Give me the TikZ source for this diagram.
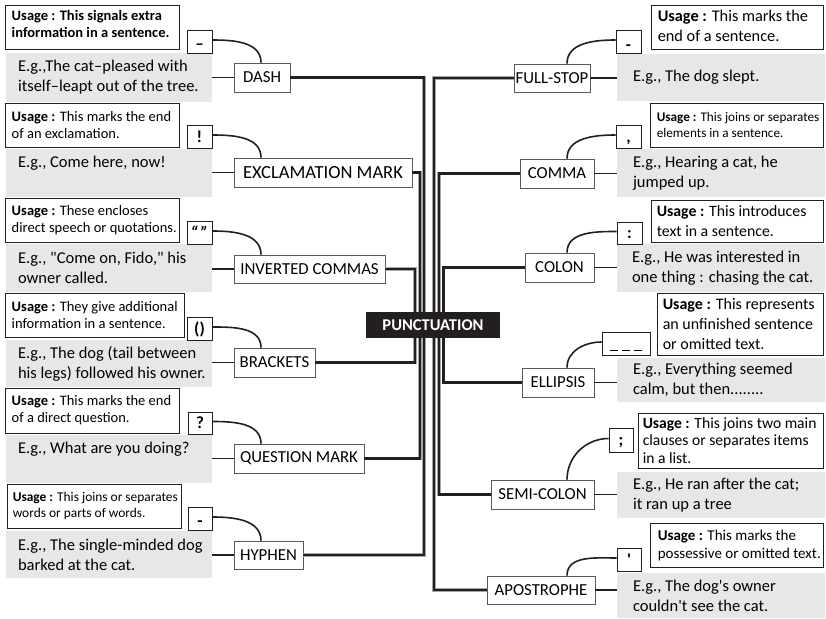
\documentclass[tikz,border=0pt]{standalone}
\usepackage{fontspec}
\setmainfont{Carlito}
\newcommand{\myfs}[2]{\fontsize{#1}{#2}\selectfont}
\newcommand{\ulbar}{\raisebox{-2pt}{\rule{8pt}{1.4pt}}}
\definecolor{exgrey}{RGB}{230,231,232}
\definecolor{ink}{RGB}{35,31,32}
\tikzset{
  sz/.style 2 args={minimum width=#1pt, minimum height=#2pt},
  ubox/.style={draw=ink, line width=0.9pt, fill=white, inner sep=0pt},
  ebox/.style={fill=exgrey, inner sep=0pt},
  sbox/.style={draw=ink, line width=0.9pt, fill=white, inner sep=0pt, text height=11pt, text depth=0pt, font=\bfseries\myfs{17}{18}},
  lbox/.style={draw=black!65, line width=0.8pt, fill=white, inner sep=0pt, font=\myfs{16.8}{20}},
  txt/.style={inner sep=0pt, align=left, anchor=west},
  etxt/.style={txt, font=\myfs{16.5}{20}},
  utxt/.style={txt, font=\myfs{14.5}{17}},
  trunk/.style={draw=ink, line width=2.1pt, preaction={draw=black!35, line width=3.1pt}},
  link/.style={draw=ink, line width=1.7pt},
  curv/.style={draw=ink, line width=1.6pt}
}
\begin{document}
\begin{tikzpicture}[x=1pt,y=1pt]
\useasboundingbox (0,0) rectangle (826,-618);
% helper coordinates
\coordinate (tL1) at (415,0);
\coordinate (tL2) at (420,0);
\coordinate (tL3) at (424,0);
\coordinate (tR1) at (443.5,0);
\coordinate (tR2) at (439,0);
\coordinate (tR3) at (434,0);
\coordinate (cL) at (261,0);
\coordinate (cR) at (567,0);

% ---------- LEFT: example boxes ----------
\node[ebox,sz={206}{49}] (eD) at (109,-77.5) {};
\node[ebox,sz={206}{48}] (eX) at (109,-173) {};
\node[ebox,sz={206}{48}] (eI) at (109,-268) {};
\node[ebox,sz={206}{47}] (eB) at (109,-363.5) {};
\node[ebox,sz={206}{48}] (eQ) at (109,-459) {};
\node[ebox,sz={206}{47}] (eH) at (109,-554.5) {};
\node[etxt] (eDt) at ([xshift=12pt]eD.west) {E.g.,The cat–pleased with\\itself–leapt out of the tree.};
\node[etxt] (eXt) at ([xshift=12pt,yshift=-14pt]eX.north west) {E.g., Come here, now!};
\node[etxt] (eIt) at ([xshift=12pt]eI.west) {E.g., \textquotedbl Come on, Fido,\textquotedbl{} his\\ owner called.};
\node[etxt] (eBt) at ([xshift=12pt]eB.west) {E.g., The dog (tail between\\his legs) followed his owner.};
\node[etxt] (eQt) at ([xshift=12pt,yshift=-14pt]eQ.north west) {E.g., What are you doing?};
\node[etxt] (eHt) at ([xshift=12pt]eH.west) {E.g., The single-minded dog\\barked at the cat.};

% ---------- LEFT: usage boxes ----------
\node[ubox,sz={174}{44}] (uD) at (92,-27) {};
\node[ubox,sz={174}{44}] (uX) at (92,-125) {};
\node[ubox,sz={174}{44}] (uI) at (92,-220) {};
\node[ubox,sz={179}{44}] (uB) at (94.5,-315) {};
\node[ubox,sz={174}{45}] (uQ) at (92,-410.5) {};
\node[ubox,sz={174}{44}] (uH) at (94,-506) {};
\node[utxt,font=\bfseries\myfs{14.5}{17}] (uDt) at ([xshift=7pt,yshift=3pt]uD.west) {Usage : This signals extra\\information in a sentence.};
\node[utxt] (uXt) at ([xshift=7pt]uX.west) {\textbf{Usage :} This marks the end\\of an exclamation.};
\node[utxt] (uIt) at ([xshift=7pt]uI.west) {\textbf{Usage :} These encloses\\direct speech or quotations.};
\node[utxt] (uBt) at ([xshift=7pt]uB.west) {\textbf{Usage :} They give additional\\information in a sentence.};
\node[utxt] (uQt) at ([xshift=7pt]uQ.west) {\textbf{Usage :} This marks the end\\of a direct question.};
\node[utxt,font=\myfs{13.4}{16}] (uHt) at ([xshift=6pt]uH.west) {\textbf{Usage :} This joins or separates\\words or parts of words.};

% ---------- LEFT: symbol boxes ----------
\node[sbox,sz={25}{23}] (sD) at (199.5,-41.5) {\raisebox{-2pt}{–}};
\node[sbox,sz={25}{23}] (sX) at (199.5,-136.5) {!};
\node[sbox,sz={25}{23}] (sI) at (199.5,-232.5) {\itshape “\,”};
\node[sbox,sz={25}{23}] (sB) at (199.5,-328.5) {()};
\node[sbox,sz={24}{22}] (sQ) at (200,-423) {?};
\node[sbox,sz={24}{23}] (sH) at (200,-518.5) {\raisebox{-2pt}{-}};

% ---------- LEFT: label boxes ----------
\node[lbox,sz={56}{29}] (nD) at (262,-77.5) {DASH};
\node[lbox,sz={178}{29},font=\myfs{18.5}{20}] (nX) at (323,-172.5) {EXCLAMATION MARK};
\node[lbox,sz={151}{28}] (nI) at (309.5,-269) {INVERTED COMMAS};
\node[lbox,sz={81}{29}] (nB) at (274.5,-362.5) {BRACKETS};
\node[lbox,sz={130}{29}] (nQ) at (299,-458.5) {QUESTION MARK};
\node[lbox,sz={69}{28}] (nH) at (268.5,-555) {HYPHEN};

% ---------- RIGHT: example boxes ----------
\node[ebox,sz={208}{47}] (eF) at (721,-77.5) {};
\node[ebox,sz={208}{48}] (eC) at (721,-173) {};
\node[ebox,sz={208}{48}] (eCo) at (721,-268) {};
\node[ebox,sz={208}{44}] (eE) at (721,-380) {};
\node[ebox,sz={208}{46}] (eS) at (721,-495) {};
\node[ebox,sz={208}{45}] (eA) at (721,-595.5) {};
\node[etxt] (eFt) at ([xshift=16pt]eF.west) {E.g., The dog slept.};
\node[etxt] (eCt) at ([xshift=16pt]eC.west) {E.g., Hearing a cat, he\\jumped up.};
\node[etxt] (eCot) at ([xshift=15pt]eCo.west) {E.g., He was interested in\\ one thing : chasing the cat.};
\node[etxt] (eEt) at ([xshift=16pt]eE.west) {E.g., Everything seemed\\calm, but then........};
\node[etxt] (eSt) at ([xshift=16pt]eS.west) {E.g., He ran after the cat;\\it ran up a tree};
\node[etxt] (eAt) at ([xshift=16pt]eA.west) {E.g., The dog\textquotesingle s owner\\couldn\textquotesingle t see the cat.};

% ---------- RIGHT: usage boxes ----------
\node[ubox,sz={172}{44}] (uF) at (737,-27) {};
\node[ubox,sz={173}{44}] (uC) at (736.5,-125) {};
\node[ubox,sz={172}{42}] (uCo) at (737,-221) {};
\node[ubox,sz={166}{62}] (uE) at (740,-324) {};
\node[ubox,sz={185}{55}] (uS) at (730.5,-440.5) {};
\node[ubox,sz={173}{44}] (uA) at (736.5,-545) {};
\node[utxt,font=\myfs{16.3}{19.5}] (uFt) at ([xshift=7pt,yshift=1pt]uF.west) {\textbf{Usage :} This marks the\\end of a sentence.};
\node[utxt,font=\myfs{13.2}{16}] (uCt) at ([xshift=7pt]uC.west) {\textbf{Usage :} This joins or separates\\elements in a sentence.};
\node[utxt,font=\myfs{15.8}{19.5}] (uCot) at ([xshift=6pt]uCo.west) {\textbf{Usage :} This introduces\\text in a sentence.};
\node[utxt,font=\myfs{16}{20}] (uEt) at ([xshift=6pt]uE.west) {\textbf{Usage :} This represents\\an unfinished sentence\\or omitted text.};
\node[utxt,font=\myfs{15.6}{17.5}] (uSt) at ([xshift=5pt]uS.west) {\textbf{Usage :} This joins two main\\clauses or separates items\\in a list.};
\node[utxt,font=\myfs{15}{18}] (uAt) at ([xshift=8pt]uA.west) {\textbf{Usage :} This marks the\\possessive or omitted text.};

% ---------- RIGHT: symbol boxes ----------
\node[sbox,sz={25}{23}] (sF) at (628.5,-41.5) {\raisebox{-3pt}{-}};
\node[sbox,sz={25}{23}] (sC) at (628.5,-136.5) {,};
\node[sbox,sz={25}{22}] (sCo) at (629.5,-233) {:};
\node[sbox,sz={48}{23}] (sE) at (626,-343.5) {\ulbar\hspace{4pt}\ulbar\hspace{4pt}\ulbar};
\node[sbox,sz={24}{24}] (sS) at (621,-440) {;};
\node[sbox,sz={24}{23}] (sA) at (629,-559.5) {\textquotesingle};

% ---------- RIGHT: label boxes ----------
\node[lbox,sz={76}{28}] (nF) at (552,-78) {FULL-STOP};
\node[lbox,sz={74}{29}] (nC) at (557,-173.5) {COMMA};
\node[lbox,sz={69}{29}] (nCo) at (559.5,-267.5) {COLON};
\node[lbox,sz={72}{29}] (nE) at (558,-382.5) {ELLIPSIS};
\node[lbox,sz={103}{29}] (nS) at (542.5,-494.5) {SEMI-COLON};
\node[lbox,sz={108}{28}] (nA) at (541,-590) {APOSTROPHE};

% ---------- connectors: example -> label ----------
\foreach \e/\n in {eD/nD,eX/nX,eI/nI,eB/nB,eQ/nQ,eH/nH}
  \draw[link] (\n.west -| \e.east) -- (\n.west);
\foreach \e/\n in {eF/nF,eC/nC,eCo/nCo,eE/nE,eS/nS,eA/nA}
  \draw[link] (\n.east) -- (\n.east -| \e.west);

% ---------- curves: symbol -> label ----------
\foreach \s/\n in {sD/nD,sX/nX,sI/nI,sB/nB,sQ/nQ,sH/nH}
  \draw[curv] ([yshift=1.5pt]\s.east) to[out=0,in=90] (\n.north -| cL);
\foreach \s/\n in {sF/nF,sC/nC,sCo/nCo,sE/nE,sS/nS,sA/nA}
  \draw[curv] ([yshift=1.5pt]\s.west) to[out=180,in=90] (\n.north -| cR);

% ---------- trunks ----------
\draw[trunk] (nD.east) -- (nD.east -| tL3) -- (nH.east -| tL3) -- (nH.east);
\draw[trunk] (nX.east) -- (nX.east -| tL2) -- (nQ.east -| tL2) -- (nQ.east);
\draw[trunk] (nI.east) -- (nI.east -| tL1) -- (nB.east -| tL1) -- (nB.east);
\draw[trunk] (nF.west) -- (nF.west -| tR3) -- (nA.west -| tR3) -- (nA.west);
\draw[trunk] (nC.west) -- (nC.west -| tR2) -- (nS.west -| tR2) -- (nS.west);
\draw[trunk] (nCo.west) -- (nCo.west -| tR1) -- (nE.west -| tR1) -- (nE.west);

% ---------- centre ----------
\node[fill=ink, text=white, inner sep=0pt, minimum width=134pt, minimum height=26pt,
      font=\bfseries\myfs{16.5}{20}] (P) at (433,-325) {PUNCTUATION};
\end{tikzpicture}
\end{document}
